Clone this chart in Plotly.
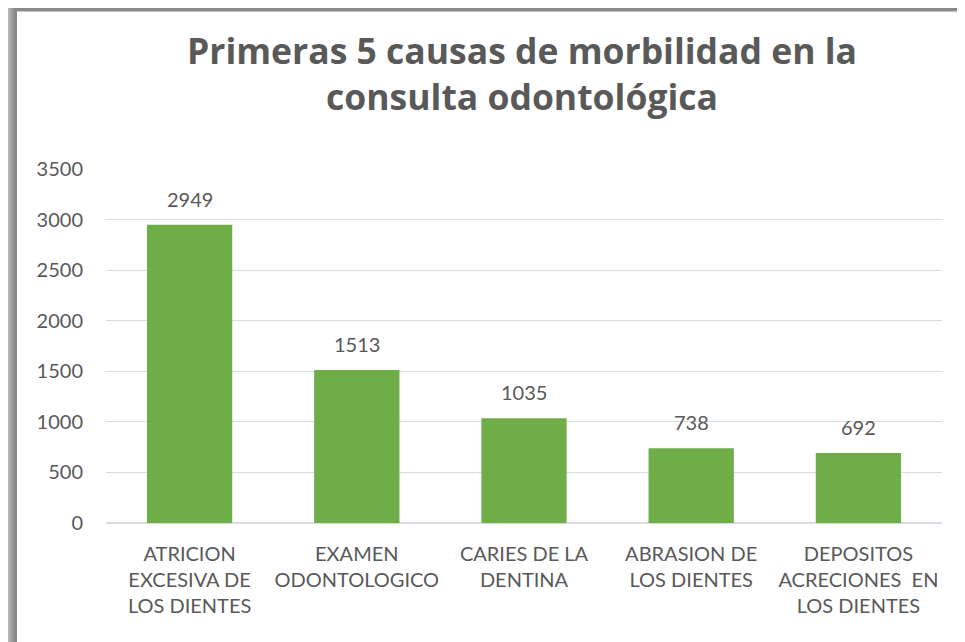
import plotly.graph_objects as go

categories = [
    "ATRICION<br>EXCESIVA DE<br>LOS DIENTES",
    "EXAMEN<br>ODONTOLOGICO",
    "CARIES DE LA<br>DENTINA",
    "ABRASION DE<br>LOS DIENTES",
    "DEPOSITOS<br>ACRECIONES  EN<br>LOS DIENTES",
]
values = [2949, 1513, 1035, 738, 692]
y_ticks = [0, 500, 1000, 1500, 2000, 2500, 3000, 3500]

OFF = 8  # page body margin
W, H = 965, 642
L, R, T, B = 106 - OFF, 23 + OFF, 169 - OFF, 119 + OFF
pw, ph = W - L - R, H - T - B

def px(x):
    return (x - OFF - L) / pw

def py(y):
    return (H - B - (y - OFF)) / ph

FONT = "Lato"
TFONT = "Open Sans"
GREY = "#595959"

fig = go.Figure()
fig.add_trace(go.Bar(
    x=categories, y=values,
    marker=dict(color="#6EAD47", line=dict(width=0)),
    width=0.51,
    hoverinfo="skip",
))

for c, v in zip(categories, values):
    fig.add_annotation(x=c, y=v, text=str(v), showarrow=False,
                       yanchor="bottom", yshift=12,
                       font=dict(family=FONT, size=20, color=GREY))

# frame / shadow
shapes = []
shade_x = [(0, "#b4b4b4"), (2, "#a4a4a4"), (4, "#969696"), (6, "#8a8a8a")]
for off, col in shade_x:
    shapes.append(dict(type="rect", xref="paper", yref="paper", layer="below",
                       x0=px(OFF + off), x1=px(W + 20), y0=py(H + 20), y1=py(OFF),
                       fillcolor=col, line=dict(width=0)))
shapes.append(dict(type="rect", xref="paper", yref="paper", layer="below",
                   x0=px(17), x1=px(W + 20), y0=py(H + 20), y1=py(11.5),
                   fillcolor="white", line=dict(width=0)))

fig.update_layout(
    width=W, height=H,
    margin=dict(l=L, r=R, t=T, b=B),
    paper_bgcolor="white", plot_bgcolor="rgba(0,0,0,0)",
    shapes=shapes,
    showlegend=False,
    bargap=0.49,
    title=dict(text="<b>Primeras 5 causas de morbilidad en la<br>consulta odontológica</b>",
               xref="container", yref="container",
               x=(522 - OFF) / W, xanchor="center", y=1 - (64 - OFF) / H, yanchor="middle",
               font=dict(family=TFONT, size=35.5, color=GREY)),
    xaxis=dict(showgrid=False, showline=False, ticks="", ticklabelstandoff=17,
               tickfont=dict(family=FONT, size=20, color=GREY)),
    yaxis=dict(range=[0, 3500], tickvals=y_ticks, showgrid=True,
               gridcolor="#d9dde3", gridwidth=1, zeroline=True, zerolinecolor="#d9dde3",
               showline=False, ticks="", ticklabelstandoff=22,
               tickfont=dict(family=FONT, size=20, color=GREY)),
)

fig.write_html("out.html")
